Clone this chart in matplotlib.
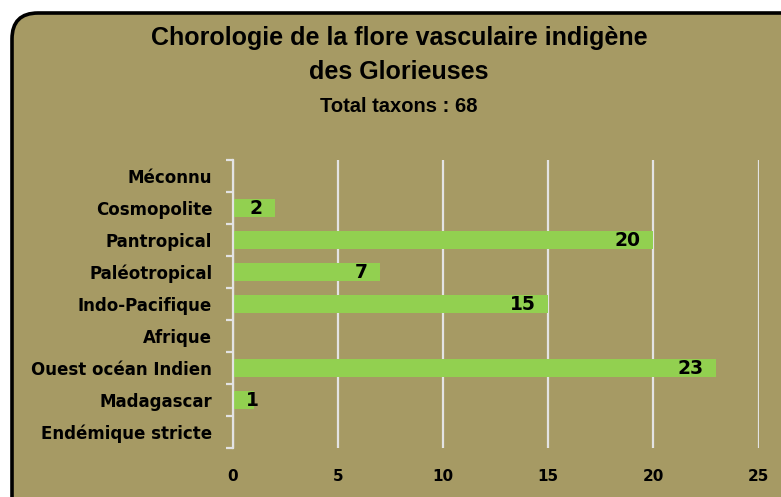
import matplotlib.pyplot as plt
from matplotlib.patches import FancyBboxPatch
from matplotlib.transforms import IdentityTransform

categories = ["Méconnu", "Cosmopolite", "Pantropical", "Paléotropical",
              "Indo-Pacifique", "Afrique", "Ouest océan Indien",
              "Madagascar", "Endémique stricte"]
values = [0, 2, 20, 7, 15, 0, 23, 1, 0]
x_ticks = [0, 5, 10, 15, 20, 25]

title = "Chorologie de la flore vasculaire indigène\ndes Glorieuses"
subtitle = "Total taxons : 68"

W, H = 781, 497
bg = "#A69A64"
bar_color = "#92D050"
grid_color = "#E3E3E3"

fig = plt.figure(figsize=(W / 100, H / 100), dpi=100)
fig.patch.set_facecolor("white")

# rounded chart area, running off the right/bottom edge
box = FancyBboxPatch((12, -40), W + 60, H - 13 + 40,
                     boxstyle="round,pad=0,rounding_size=26",
                     transform=IdentityTransform(), facecolor=bg,
                     edgecolor="black", linewidth=2.6, zorder=-5)
fig.add_artist(box)

ax = fig.add_axes([233 / W, 1 - 448 / H, (758.5 - 233) / W, (448 - 160) / H])
ax.set_facecolor("none")

n = len(categories)
ypos = list(range(n))[::-1]
ax.barh(ypos, values, height=0.58, color=bar_color, zorder=2)

ax.set_xlim(0, 25)
ax.set_ylim(-0.5, n - 0.5)
ax.set_xticks(x_ticks)
ax.set_xticklabels([str(t) for t in x_ticks], fontsize=11, fontweight="bold")
ax.tick_params(axis="x", length=0, pad=15)
ax.grid(axis="x", color=grid_color, linewidth=1.6, zorder=1)

ax.set_yticks(ypos)
ax.set_yticklabels(categories, fontsize=12, fontweight="bold")
ax.set_yticks([i - 0.5 for i in range(n + 1)], minor=True)
ax.tick_params(axis="y", which="major", length=0, pad=15)
ax.tick_params(axis="y", which="minor", length=5, width=1.6, color=grid_color)

for s in ["top", "right", "bottom"]:
    ax.spines[s].set_visible(False)
ax.spines["left"].set_color(grid_color)
ax.spines["left"].set_linewidth(1.6)

# data labels at the inside end of the bars
for y, v in zip(ypos, values):
    if v > 0:
        ax.text(max(v - 0.6, 1.24), y, str(v), ha="right", va="center",
                fontsize=13.5, fontweight="bold", color="black", zorder=3)

fig.text(399 / W, 1 - 55 / H, title, ha="center", va="center",
         fontsize=18, fontweight="bold", linespacing=1.5,
         family="Liberation Sans")
fig.text(399 / W, 1 - 106 / H, subtitle, ha="center", va="center",
         fontsize=14.5, fontweight="bold", family="Liberation Sans")

fig.savefig("out.png", dpi=100, facecolor=fig.get_facecolor())
